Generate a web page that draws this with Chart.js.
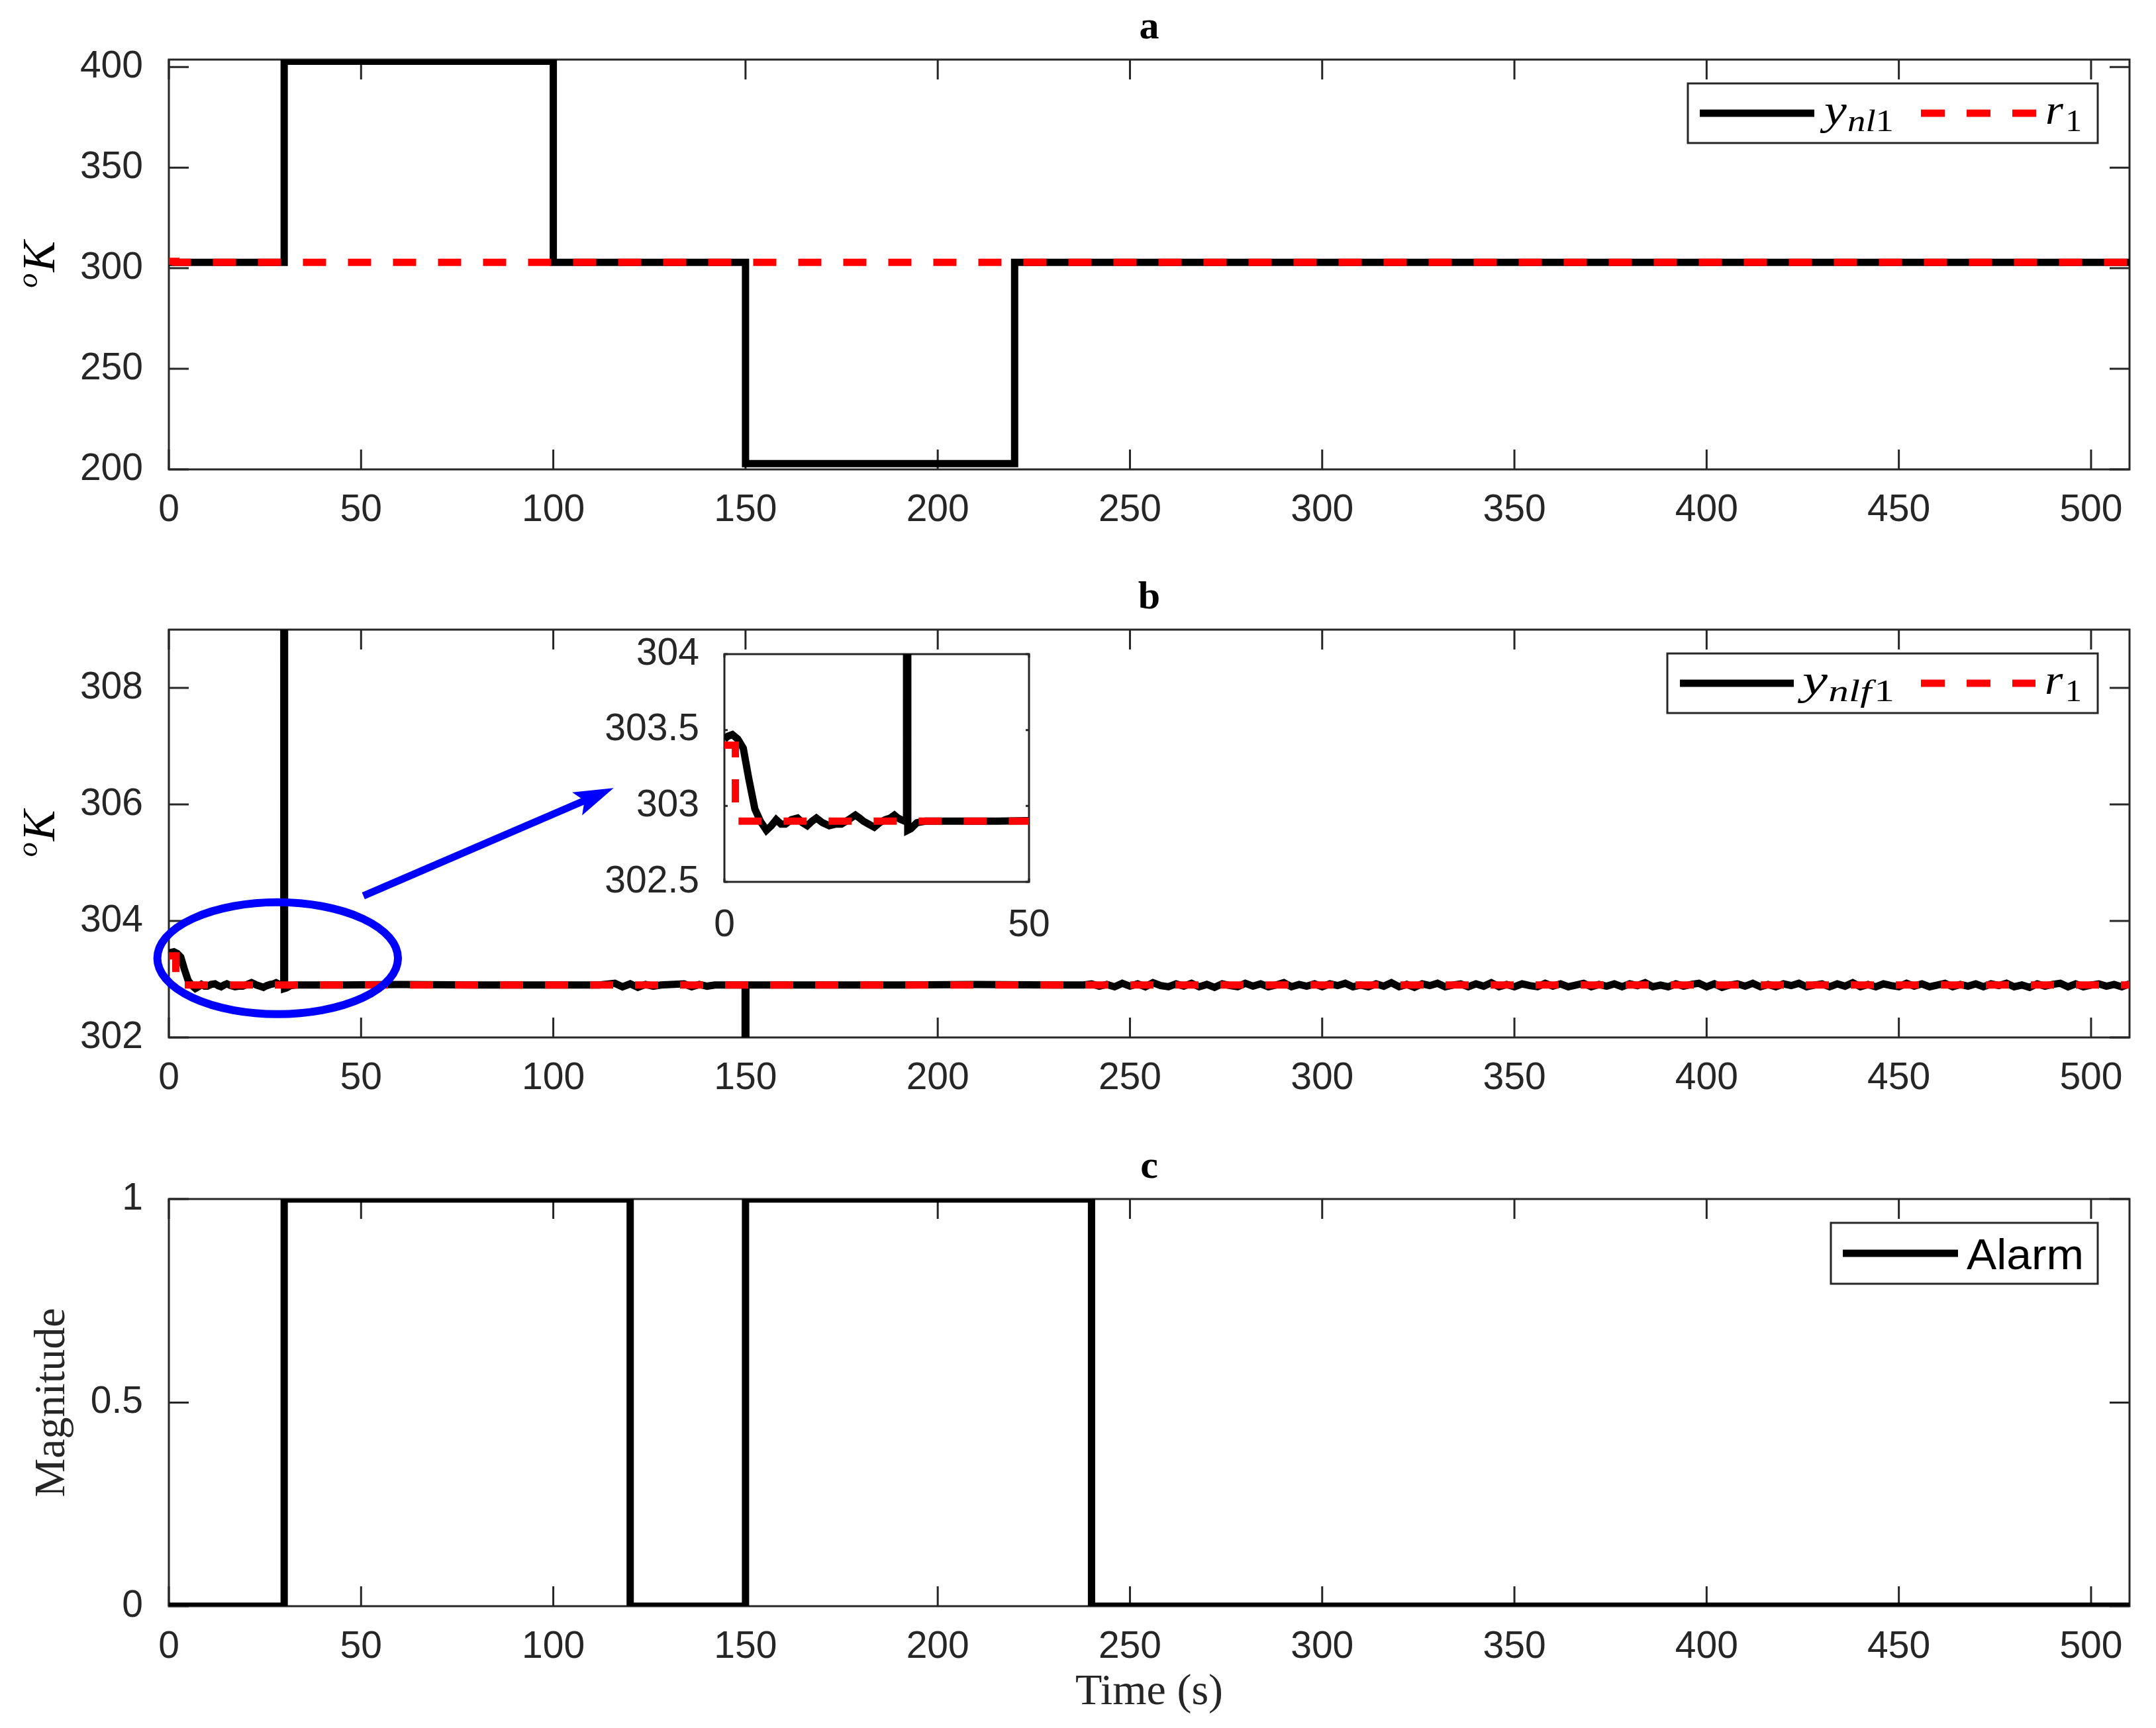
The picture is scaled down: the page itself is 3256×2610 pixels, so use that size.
<!DOCTYPE html>
<html>
<head>
<meta charset="utf-8">
<script src="https://cdn.jsdelivr.net/npm/chart.js@4.4.0/dist/chart.umd.min.js"></script>
<style>
  html, body { margin: 0; padding: 0; background: #ffffff; }
  body { width: 3256px; height: 2610px; position: relative; overflow: hidden; }
  canvas { position: absolute; }
</style>
</head>
<body>
<canvas id="ca" width="3256" height="850" style="left:0px;top:0px"></canvas>
<canvas id="cb" width="3256" height="860" style="left:0px;top:850px"></canvas>
<canvas id="cc" width="3256" height="900" style="left:0px;top:1710px"></canvas>
<canvas id="ci" width="800" height="600" style="left:880px;top:880px"></canvas>
<script>
// ---------------- DATA ----------------
const xTickLabels = [0, 50, 100, 150, 200, 250, 300, 350, 400, 450, 500];
const yTickLabelsA = [200, 250, 300, 350, 400];
const yTickLabelsB = [302, 304, 306, 308];
const yTickLabelsC = [0, 0.5, 1];
const xTickLabelsInset = [0, 50];
const yTickLabelsInset = [302.5, 303, 303.5, 304];

// panel a: y_nl1
const ynl1Time = [0, 30, 30, 100, 100, 150, 150, 220, 220, 510];
const ynl1Val  = [302.9, 302.9, 402.9, 402.9, 302.9, 302.9, 202.9, 202.9, 302.9, 302.9];

// reference r1 (panels a and b)
const r1Time = [0, 1.8, 1.8, 510];
const r1Val  = [303.4, 303.4, 302.9, 302.9];

// panel b: y_nlf1 (first part, 0..238 s)
const ynlf1HeadTime = [0, 0.6, 1.3, 2.2, 3.1, 4.0, 5.0, 5.9, 6.9, 7.7, 8.5, 9.3, 10.0, 11.0, 12.0, 12.8, 13.6, 14.4, 15.1, 16.1, 17.2, 18.2, 19.2, 20.4, 21.5, 22.2, 22.8, 23.7, 24.6, 25.5, 26.4, 27.2, 27.9, 28.5, 29.0, 29.6,
  29.9, 30.0, 30.1, 30.6, 31.6, 33,
  45, 60, 80, 100, 112,
  116, 118, 120, 122, 124, 126, 128,
  134, 136, 138, 140, 142,
  149.9, 150.0, 150.1, 152,
  170, 190, 210, 230, 238];
const ynlf1HeadVal = [303.44, 303.46, 303.47, 303.44, 303.38, 303.18, 302.98, 302.90, 302.84, 302.87, 302.91, 302.88, 302.88, 302.91, 302.92, 302.89, 302.87, 302.90, 302.92, 302.89, 302.87, 302.88, 302.88, 302.91, 302.94, 302.92, 302.90, 302.88, 302.86, 302.89, 302.91, 302.92, 302.94, 302.92, 302.91, 302.90,
  302.90, 402.9, 302.84, 302.85, 302.89, 302.90,
  302.90, 302.91, 302.90, 302.90, 302.90,
  302.93, 302.87, 302.92, 302.86, 302.91, 302.88, 302.90,
  302.92, 302.87, 302.91, 302.88, 302.90,
  302.90, 202.9, 302.90, 302.90,
  302.90, 302.90, 302.91, 302.90, 302.90];

// panel b: y_nlf1 (noisy tail, 240..510 s)
const ynlf1TailTime = [240, 242, 244, 246, 248, 250, 252, 254, 256, 258,
  260, 262, 264, 266, 268, 270, 272, 274, 276, 278,
  280, 282, 284, 286, 288, 290, 292, 294, 296, 298,
  300, 302, 304, 306, 308, 310, 312, 314, 316, 318,
  320, 322, 324, 326, 328, 330, 332, 334, 336, 338,
  340, 342, 344, 346, 348, 350, 352, 354, 356, 358,
  360, 362, 364, 366, 368, 370, 372, 374, 376, 378,
  380, 382, 384, 386, 388, 390, 392, 394, 396, 398,
  400, 402, 404, 406, 408, 410, 412, 414, 416, 418,
  420, 422, 424, 426, 428, 430, 432, 434, 436, 438,
  440, 442, 444, 446, 448, 450, 452, 454, 456, 458,
  460, 462, 464, 466, 468, 470, 472, 474, 476, 478,
  480, 482, 484, 486, 488, 490, 492, 494, 496, 498,
  500, 502, 504, 506, 508, 510];
const ynlf1TailVal = [302.92, 302.88, 302.91, 302.87, 302.93, 302.88, 302.92, 302.87, 302.94, 302.89,
  302.87, 302.92, 302.88, 302.93, 302.87, 302.91, 302.86, 302.92, 302.89, 302.87,
  302.93, 302.88, 302.92, 302.87, 302.90, 302.94, 302.87, 302.91, 302.88, 302.92,
  302.87, 302.92, 302.89, 302.93, 302.87, 302.90, 302.87, 302.92, 302.88, 302.94,
  302.87, 302.91, 302.86, 302.92, 302.89, 302.93, 302.87, 302.90, 302.92, 302.87,
  302.92, 302.88, 302.94, 302.87, 302.91, 302.87, 302.92, 302.89, 302.87, 302.93,
  302.88, 302.92, 302.87, 302.90, 302.93, 302.87, 302.91, 302.88, 302.92, 302.87,
  302.92, 302.89, 302.94, 302.87, 302.90, 302.87, 302.92, 302.88, 302.91, 302.93,
  302.87, 302.92, 302.86, 302.90, 302.92, 302.88, 302.93, 302.87, 302.91, 302.87,
  302.92, 302.89, 302.93, 302.87, 302.90, 302.92, 302.87, 302.92, 302.88, 302.94,
  302.87, 302.91, 302.87, 302.92, 302.89, 302.87, 302.93, 302.88, 302.92, 302.87,
  302.90, 302.93, 302.87, 302.91, 302.88, 302.92, 302.87, 302.92, 302.89, 302.93,
  302.87, 302.90, 302.86, 302.92, 302.88, 302.91, 302.93, 302.87, 302.92, 302.87,
  302.90, 302.92, 302.88, 302.91, 302.87, 302.92];

// panel c: alarm
const alarmTime = [0, 30, 30, 120, 120, 150, 150, 240, 240, 510];
const alarmVal  = [0, 0, 1, 1, 0, 0, 1, 1, 0, 0];

// annotation (data coordinates of panel b)
const ellipseNote = { cx: 28.3, cy: 303.36, rx: 31.3, ry: 0.96 };
const arrowNote = { x1: 50.6, y1: 304.43, x2: 115.7, y2: 306.28 };

// ---------------- STYLE ----------------
const AXIS_COLOR = '#262626';
const SANS = '"Liberation Sans", Arial, Helvetica, sans-serif';
const SERIF = '"Liberation Serif", "Times New Roman", serif';
const TICK_FONT = { family: SANS, size: 57 };
const LINE_W = 11;
Chart.defaults.font.family = SANS;
Chart.defaults.color = AXIS_COLOR;

function pts(t, v) { return t.map((x, i) => ({ x: x, y: v[i] })); }

function lineDS(data, color, dash, order) {
  return {
    data: data, borderColor: color, backgroundColor: color, borderWidth: LINE_W,
    borderDash: dash || [], pointRadius: 0, pointHoverRadius: 0, tension: 0,
    fill: false, order: order, borderCapStyle: 'butt', borderJoinStyle: 'miter'
  };
}

function axesPlugin(xT, yT, tickLen, lw) {
  return {
    id: 'matlabAxes',
    beforeDatasetsDraw(chart) {
      const { ctx, chartArea: a, scales: { x, y } } = chart;
      ctx.save();
      ctx.strokeStyle = AXIS_COLOR;
      ctx.lineWidth = lw;
      ctx.beginPath();
      xT.forEach(v => {
        const px = x.getPixelForValue(v);
        ctx.moveTo(px, a.bottom); ctx.lineTo(px, a.bottom - tickLen);
        ctx.moveTo(px, a.top); ctx.lineTo(px, a.top + tickLen);
      });
      yT.forEach(v => {
        const py = y.getPixelForValue(v);
        ctx.moveTo(a.left, py); ctx.lineTo(a.left + tickLen, py);
        ctx.moveTo(a.right, py); ctx.lineTo(a.right - tickLen, py);
      });
      ctx.stroke();
      ctx.strokeRect(a.left, a.top, a.right - a.left, a.bottom - a.top);
      ctx.restore();
    }
  };
}

function drawRich(ctx, x, y, parts) {
  let cx = x;
  parts.forEach(p => {
    ctx.font = p.font;
    ctx.fillText(p.t, cx, y + (p.dy || 0));
    cx += ctx.measureText(p.t).width + (p.gap || 0);
  });
  return cx - x;
}
function richWidth(ctx, parts) {
  let w = 0;
  parts.forEach(p => { ctx.font = p.font; w += ctx.measureText(p.t).width + (p.gap || 0); });
  return w;
}

const MAIN_IT = 'italic 64px ' + SERIF;
const SUB_IT = 'italic 46px ' + SERIF;
const SUB_RM = '46px ' + SERIF;

// legend with MATLAB-like fixed layout: entries {kind, color, s0, s1, tx, tw, base, parts}
function legendPlugin(boxW, boxH, entries) {
  return {
    id: 'boxLegend',
    afterDraw(chart) {
      const { ctx, chartArea: a } = chart;
      ctx.save();
      const right = a.right - 48, top = a.top + 36;
      const left = right - boxW;
      const cy = top + boxH / 2;
      ctx.fillStyle = '#ffffff';
      ctx.fillRect(left, top, boxW, boxH);
      ctx.strokeStyle = AXIS_COLOR; ctx.lineWidth = 3;
      ctx.strokeRect(left, top, boxW, boxH);
      entries.forEach(e => {
        ctx.strokeStyle = e.color; ctx.lineWidth = 11; ctx.lineCap = 'butt';
        ctx.setLineDash(e.kind === 'dash' ? [36, 33] : []);
        ctx.beginPath(); ctx.moveTo(left + e.s0, cy); ctx.lineTo(left + e.s1, cy); ctx.stroke();
        ctx.setLineDash([]);
        ctx.fillStyle = '#000000'; ctx.textBaseline = 'alphabetic'; ctx.textAlign = 'left';
        const w = richWidth(ctx, e.parts);
        ctx.save();
        ctx.translate(left + e.tx, cy + e.base);
        ctx.scale(e.tw / w, 1);
        drawRich(ctx, 0, 0, e.parts);
        ctx.restore();
      });
      ctx.restore();
    }
  };
}

function titlePlugin(letter, kLabel) {
  return {
    id: 'panelTitle',
    afterDraw(chart) {
      const { ctx, chartArea: a } = chart;
      ctx.save();
      ctx.fillStyle = '#000000';
      ctx.textAlign = 'center'; ctx.textBaseline = 'alphabetic';
      ctx.font = 'bold 60px ' + SERIF;
      ctx.fillText(letter, (a.left + a.right) / 2, a.top - 32);
      if (kLabel) {
        const parts = [{ t: 'o', font: 'italic 44px ' + SERIF, dy: -26, gap: 2 }, { t: 'K', font: 'italic 70px ' + SERIF }];
        ctx.textAlign = 'left';
        const w = richWidth(ctx, parts);
        ctx.translate(82, (a.top + a.bottom) / 2);
        ctx.rotate(-Math.PI / 2);
        drawRich(ctx, -w / 2, 0, parts);
      }
      ctx.restore();
    }
  };
}

const notePlugin = {
  id: 'blueNotes',
  afterDraw(chart) {
    const { ctx, scales: { x, y } } = chart;
    ctx.save();
    ctx.strokeStyle = '#0000ff'; ctx.fillStyle = '#0000ff';
    const ex = x.getPixelForValue(ellipseNote.cx), ey = y.getPixelForValue(ellipseNote.cy);
    const erx = x.getPixelForValue(ellipseNote.cx + ellipseNote.rx) - ex;
    const ery = ey - y.getPixelForValue(ellipseNote.cy + ellipseNote.ry);
    ctx.lineWidth = 12;
    ctx.beginPath(); ctx.ellipse(ex, ey, erx, ery, 0, 0, Math.PI * 2); ctx.stroke();
    const x1 = x.getPixelForValue(arrowNote.x1), y1 = y.getPixelForValue(arrowNote.y1);
    const x2 = x.getPixelForValue(arrowNote.x2), y2 = y.getPixelForValue(arrowNote.y2);
    const L = Math.hypot(x2 - x1, y2 - y1), ux = (x2 - x1) / L, uy = (y2 - y1) / L;
    const nx = -uy, ny = ux;
    ctx.lineWidth = 11; ctx.lineCap = 'butt';
    ctx.beginPath(); ctx.moveTo(x1, y1); ctx.lineTo(x2 - 46 * ux, y2 - 46 * uy); ctx.stroke();
    ctx.beginPath();
    ctx.moveTo(x2, y2);
    ctx.lineTo(x2 - 60 * ux + 19 * nx, y2 - 60 * uy + 19 * ny);
    ctx.lineTo(x2 - 48 * ux, y2 - 48 * uy);
    ctx.lineTo(x2 - 60 * ux - 19 * nx, y2 - 60 * uy - 19 * ny);
    ctx.closePath(); ctx.fill();
    ctx.restore();
  }
};

function makeChart(id, cfg) {
  const xT = cfg.xTicks, yT = cfg.yTicks;
  return new Chart(document.getElementById(id), {
    type: 'line',
    data: { datasets: cfg.datasets },
    options: {
      responsive: false, animation: false, devicePixelRatio: 1,
      layout: { padding: cfg.padding },
      plugins: { legend: { display: false }, title: { display: false }, tooltip: { enabled: false } },
      events: [],
      scales: {
        x: {
          type: 'linear', min: cfg.xMin, max: cfg.xMax,
          afterBuildTicks: s => { s.ticks = xT.map(v => ({ value: v })); },
          afterFit: s => { s.height = cfg.xHeight; },
          grid: { display: false }, border: { display: false },
          ticks: { font: TICK_FONT, color: AXIS_COLOR, padding: cfg.xPad, maxRotation: 0, autoSkip: false, callback: v => String(v) },
          title: cfg.xTitle || { display: false }
        },
        y: {
          type: 'linear', min: cfg.yMin, max: cfg.yMax,
          afterBuildTicks: s => { s.ticks = yT.map(v => ({ value: v })); },
          afterFit: s => { s.width = cfg.yWidth; },
          grid: { display: false }, border: { display: false },
          ticks: { font: TICK_FONT, color: AXIS_COLOR, padding: cfg.yPad, autoSkip: false, callback: v => String(v) },
          title: cfg.yTitle || { display: false }
        }
      }
    },
    plugins: cfg.plugins
  });
}

const legYnl1 = [
  { kind: 'solid', color: '#000000', s0: 18, s1: 191, tx: 206, tw: 105, base: 16, parts: [{ t: 'y', font: MAIN_IT, gap: 1 }, { t: 'nl', font: SUB_IT, dy: 11 }, { t: '1', font: SUB_RM, dy: 11 }] },
  { kind: 'dash', color: '#ff0000', s0: 352, s1: 526, tx: 540, tw: 55, base: 16, parts: [{ t: 'r', font: MAIN_IT, gap: 3 }, { t: '1', font: SUB_RM, dy: 11 }] }
];
const legYnlf1 = [
  { kind: 'solid', color: '#000000', s0: 19, s1: 191, tx: 204, tw: 139, base: 16, parts: [{ t: 'y', font: MAIN_IT, gap: 1 }, { t: 'nlf', font: SUB_IT, dy: 11, gap: 3 }, { t: '1', font: SUB_RM, dy: 11 }] },
  { kind: 'dash', color: '#ff0000', s0: 383, s1: 556, tx: 570, tw: 56, base: 16, parts: [{ t: 'r', font: MAIN_IT, gap: 3 }, { t: '1', font: SUB_RM, dy: 11 }] }
];
const legAlarm = [
  { kind: 'solid', color: '#000000', s0: 18, s1: 192, tx: 205, tw: 177, base: 24, parts: [{ t: 'Alarm', font: '64px ' + SANS }] }
];

// Panel a
makeChart('ca', {
  datasets: [lineDS(pts(r1Time, r1Val), '#ff0000', [35, 33], 0), lineDS(pts(ynl1Time, ynl1Val), '#000000', null, 1)],
  xMin: 0, xMax: 510, yMin: 200, yMax: 403.7, xTicks: xTickLabels, yTicks: yTickLabelsA,
  padding: { left: 0, right: 40, top: 90, bottom: 0 }, xHeight: 141, yWidth: 255, xPad: 20, yPad: 31,
  plugins: [axesPlugin(xTickLabels, yTickLabelsA, 30, 3), legendPlugin(619, 90, legYnl1), titlePlugin('a', true)]
});

// Panel b
const ynlf1Pts = pts(ynlf1HeadTime, ynlf1HeadVal).concat(pts(ynlf1TailTime, ynlf1TailVal));
makeChart('cb', {
  datasets: [lineDS(pts(r1Time, r1Val), '#ff0000', [35, 33], 0), lineDS(ynlf1Pts, '#000000', null, 1)],
  xMin: 0, xMax: 510, yMin: 302, yMax: 309, xTicks: xTickLabels, yTicks: yTickLabelsB,
  padding: { left: 0, right: 40, top: 101, bottom: 0 }, xHeight: 143, yWidth: 255, xPad: 20, yPad: 31,
  plugins: [axesPlugin(xTickLabels, yTickLabelsB, 30, 3), legendPlugin(650, 90, legYnlf1), titlePlugin('b', true), notePlugin]
});

// Panel c
makeChart('cc', {
  datasets: [lineDS(pts(alarmTime, alarmVal), '#000000', null, 0)],
  xMin: 0, xMax: 510, yMin: 0, yMax: 1, xTicks: xTickLabels, yTicks: yTickLabelsC,
  padding: { left: 0, right: 40, top: 101, bottom: 0 }, xHeight: 184, yWidth: 255, xPad: 20, yPad: 31,
  xTitle: { display: true, text: 'Time (s)', font: { family: SERIF, size: 66 }, color: AXIS_COLOR, padding: { top: 0, bottom: 14 } },
  yTitle: { display: true, text: 'Magnitude', font: { family: SERIF, size: 66 }, color: AXIS_COLOR, padding: { top: 40, bottom: 0 } },
  plugins: [axesPlugin(xTickLabels, yTickLabelsC, 30, 3), legendPlugin(403, 92, legAlarm), titlePlugin('c', false)]
});

// Inset
makeChart('ci', {
  datasets: [lineDS(pts(r1Time, r1Val), '#ff0000', [35, 33], 0), lineDS(ynlf1Pts, '#000000', null, 1)],
  xMin: 0, xMax: 50, yMin: 302.5, yMax: 304, xTicks: xTickLabelsInset, yTicks: yTickLabelsInset,
  padding: { left: 0, right: 126, top: 108, bottom: 0 }, xHeight: 148, yWidth: 214, xPad: 24, yPad: 30,
  plugins: [axesPlugin(xTickLabelsInset, yTickLabelsInset, 5, 3)]
});
</script>
</body>
</html>
